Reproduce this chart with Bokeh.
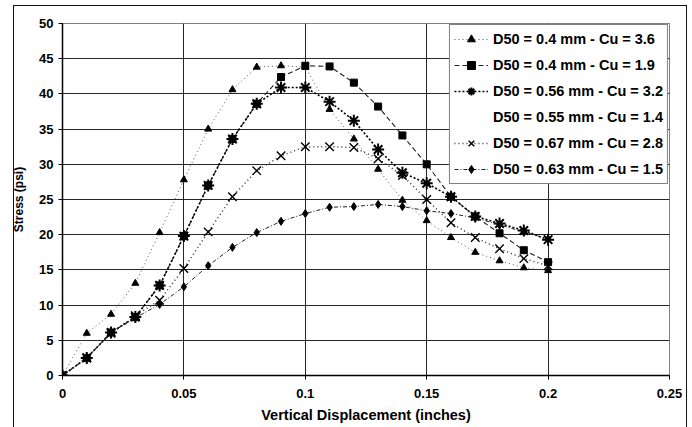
from bokeh.plotting import figure
from bokeh.models import FixedTicker, Legend, LegendItem, InlineStyleSheet
from bokeh.embed import file_html
from bokeh.resources import INLINE

# ---- data ----
displacement = [0, 0.01, 0.02, 0.03, 0.04, 0.05, 0.06, 0.07, 0.08, 0.09, 0.10,
                0.11, 0.12, 0.13, 0.14, 0.15, 0.16, 0.17, 0.18, 0.19, 0.20]
s_04_36 = [0, 6.0, 8.7, 13.1, 20.3, 27.8, 35.0, 40.6, 43.8, 44.0, 43.8,
           37.8, 33.6, 29.3, 24.9, 22.0, 19.6, 17.5, 16.3, 15.3, 14.9]
s_04_19 = [0, 2.5, 6.1, 8.3, 12.8, 19.8, 27.0, 33.6, 38.6, 42.4, 44.0,
           43.9, 41.6, 38.2, 34.1, 30.0, 25.4, 22.6, 20.2, 17.8, 16.1]
s_056_32 = [0, 2.5, 6.1, 8.3, 12.8, 19.8, 27.0, 33.6, 38.6, 40.9, 40.9,
            38.9, 36.2, 32.1, 28.8, 27.3, 25.4, 22.6, 21.6, 20.6, 19.3]
s_055_14 = []
s_067_28 = [0, 2.5, 6.0, 8.5, 10.7, 15.2, 20.4, 25.4, 29.1, 31.2, 32.5,
            32.5, 32.4, 30.8, 28.4, 25.0, 21.7, 19.6, 18.0, 16.6, 15.6]
s_063_15 = [0, 2.5, 6.1, 8.2, 10.1, 12.6, 15.6, 18.2, 20.3, 21.9, 23.0,
            23.9, 24.0, 24.3, 24.0, 23.4, 23.0, 22.4, 21.4, 20.4, 19.4]

labels = ["D50 = 0.4 mm - Cu = 3.6", "D50 = 0.4 mm - Cu = 1.9",
          "D50 = 0.56 mm - Cu = 3.2", "D50 = 0.55 mm - Cu = 1.4",
          "D50 = 0.67 mm - Cu = 2.8", "D50 = 0.63 mm - Cu = 1.5"]

x_ticks = [0, 0.05, 0.1, 0.15, 0.2, 0.25]
x_tick_labels = ["0", "0.05", "0.1", "0.15", "0.2", "0.25"]
y_ticks = [0, 5, 10, 15, 20, 25, 30, 35, 40, 45, 50]

FONT = "Liberation Sans"

border_css = InlineStyleSheet(css="""
:host { position: relative; }
:host::after {
  content: ""; position: absolute; left: 13px; top: 5px;
  width: 674px; height: 440px; border: 1px solid #111;
  pointer-events: none; box-sizing: border-box;
}
""")

p = figure(width=692, height=427, x_range=(0, 0.25), y_range=(0, 50),
           output_backend="svg", toolbar_location=None,
           min_border_left=62, min_border_right=23, min_border_top=23,
           min_border_bottom=52, stylesheets=[border_css])

p.outline_line_color = "black"
p.outline_line_dash = "1 1"
p.outline_line_width = 1

# axes
p.xaxis.ticker = FixedTicker(ticks=x_ticks)
p.xaxis.major_label_overrides = {t: l for t, l in zip(x_ticks, x_tick_labels)}
p.yaxis.ticker = FixedTicker(ticks=y_ticks)
for ax in (p.xaxis, p.yaxis):
    ax.axis_line_color = "black"
    ax.axis_line_width = 1.5
    ax.major_tick_in = 0
    ax.major_tick_out = 4
    ax.minor_tick_in = 0
    ax.minor_tick_out = 0
    ax.major_label_text_font = FONT
    ax.major_label_text_font_style = "bold"
    ax.major_label_text_font_size = "13px"
    ax.major_label_text_color = "black"
    ax.axis_label_text_font = FONT
    ax.axis_label_text_font_style = "bold"
    ax.axis_label_text_color = "black"
p.xaxis.major_label_standoff = 9
p.yaxis.major_label_standoff = 5
p.xaxis.axis_label = "Vertical Displacement (inches)"
p.xaxis.axis_label_text_font_size = "14.5px"
p.xaxis.axis_label_standoff = 6
p.yaxis.axis_label = "Stress (psi)"
p.yaxis.axis_label_text_font_size = "12px"
p.yaxis.axis_label_standoff = 10

# grid
p.xgrid.ticker = FixedTicker(ticks=x_ticks[1:-1])
p.ygrid.ticker = FixedTicker(ticks=y_ticks[1:-1])
p.xgrid.grid_line_color = "black"
p.ygrid.grid_line_color = "black"
p.xgrid.grid_line_width = 1
p.ygrid.grid_line_width = 1
p.xgrid.grid_line_alpha = 0.85
p.ygrid.grid_line_alpha = 0.85

items = []

def series(ys, label, dash, lw, marker, size, mlw, lcolor="black"):
    r_line = p.line(displacement, ys, line_color=lcolor, line_dash=dash, line_width=lw)
    r_pts = p.scatter(displacement, ys, marker=marker, size=size,
                      fill_color="black", line_color="black", line_width=mlw)
    items.append(LegendItem(label=label, renderers=[r_line, r_pts]))

series(s_04_36, labels[0], "1 3", 1, "triangle", 7, 1, "#555")
series(s_04_19, labels[1], "5 3", 1.1, "square", 7, 1, "#222")
series(s_056_32, labels[2], "2 2", 1.6, "asterisk", 12, 2)
r_empty = p.line(displacement[:len(s_055_14)], s_055_14, line_alpha=0)
items.append(LegendItem(label=labels[3], renderers=[r_empty]))
series(s_067_28, labels[4], "1 3", 1.5, "x", 12, 1.4, "#333")
series(s_063_15, labels[5], "4 2 1 2", 1, "diamond", 8, 1, "#222")

legend = Legend(items=items, location="top_right")
legend.margin = 1
legend.padding = 4
legend.spacing = 6
legend.glyph_width = 34
legend.glyph_height = 20
legend.label_standoff = 5
legend.label_text_font = FONT
legend.label_text_font_style = "bold"
legend.label_text_font_size = "14.5px"
legend.label_text_color = "black"
legend.border_line_color = "black"
legend.border_line_width = 1
legend.background_fill_color = "white"
legend.background_fill_alpha = 1
p.add_layout(legend)

open("out.html", "w").write(file_html(p, INLINE))
